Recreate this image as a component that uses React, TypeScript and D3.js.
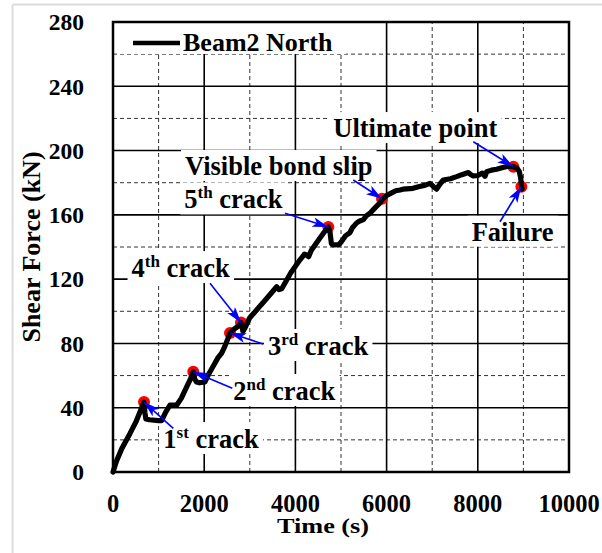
import React, { useEffect, useRef } from "react";
import * as d3 from "d3";

// ---- data ----
const timeS = [0, 80, 200, 373, 500, 600, 680, 700, 720, 800, 1000, 1067, 1150, 1250, 1400, 1500, 1600, 1700, 1760, 1790, 1830, 1900, 2017, 2100, 2200, 2300, 2383, 2450, 2520, 2566, 2620, 2680, 2785, 2807, 2850, 2900, 3000, 3187, 3370, 3589, 3640, 3700, 3800, 3900, 4000, 4101, 4200, 4247, 4290, 4350, 4450, 4550, 4650, 4722, 4760, 4790, 4832, 4950, 5000, 5100, 5197, 5250, 5344, 5400, 5490, 5560, 5636, 5750, 5855, 5900, 6000, 6100, 6200, 6294, 6360, 6579, 6700, 6850, 6952, 7030, 7098, 7180, 7244, 7400, 7536, 7650, 7792, 7850, 7902, 8000, 8100, 8158, 8195, 8300, 8414, 8550, 8670, 8780, 8860, 8910, 8940, 8960, 8970];
const shearKN = [0, 7, 15, 24, 31, 38, 43.5, 37, 33, 32.5, 32, 32, 37, 41.7, 41.7, 46, 52, 58, 62.4, 58, 56, 55.5, 56, 61, 66, 71, 74, 78, 83, 86.5, 88, 89.4, 91.5, 93, 87.5, 90, 96, 102, 108, 115.3, 113.5, 114, 119, 124, 128, 132, 135.5, 135, 134, 138, 142, 146, 150, 152.5, 149, 142, 141.3, 141.5, 143, 147, 149, 152, 155, 156, 157, 159.5, 161, 164.5, 167.5, 169.5, 172, 173.5, 175, 175.5, 176, 176.5, 177.5, 178.5, 179.6, 177.5, 176, 179.5, 181.7, 182.5, 183.8, 185, 186.3, 185, 184.2, 184.5, 186, 184, 186.9, 187.8, 188.4, 189.5, 190.3, 190, 189, 187, 183, 178, 176];

const markerTime = [680, 1760, 2566, 2807, 4722, 5900, 8780, 8955];
const markerShear = [43.5, 62.4, 86.5, 93, 152.5, 170, 190, 177.5];

const labelMain = ["1", "2", "3", "4", "5", "Visible bond slip", "Ultimate point", "Failure"];
const labelSup = ["st", "nd", "rd", "th", "th", "", "", ""];
const labelRest = [" crack", " crack", " crack", " crack", " crack", "", "", ""];
const labelTime = [1103, 2638, 3399, 406, 1564, 1579, 4831, 7866];
const labelShear = [14.9, 44.8, 72.8, 121.3, 164, 184.8, 208.4, 143.9];
const arrowTailTime = [1322, 2616, 3296, 2127, 3772, 5270, 7901, 8487];
const arrowTailShear = [27.2, 52.1, 79.6, 117.4, 161, 181.7, 205.5, 155.7];
const arrowTarget = [0, 1, 2, 3, 4, 5, 6, 7];

const xTicks = [0, 2000, 4000, 6000, 8000, 10000];
const yTicks = [0, 40, 80, 120, 160, 200, 240, 280];
const xMinor = [1000, 3000, 5000, 7000, 9000];
const yMinor = [20, 60, 100, 140, 180, 220, 260];

const seriesName = "Beam2 North";
const xTitle = "Time (s)";
const yTitle = "Shear Force (kN)";

const W = 602;
const H = 553;
const M = { left: 113, top: 22, right: 33, bottom: 81 };
const FONT = "'Liberation Serif', 'Times New Roman', serif";

export default function App() {
  const ref = useRef<SVGSVGElement | null>(null);

  useEffect(() => {
    const svg = d3.select(ref.current);
    svg.selectAll("*").remove();

    const x = d3.scaleLinear().domain([0, 10000]).range([M.left, W - M.right]);
    const y = d3.scaleLinear().domain([0, 280]).range([H - M.bottom, M.top]);
    const x0 = x(0), x1 = x(10000), y0 = y(0), y1 = y(280);

    // outer light frame
    svg.append("line").attr("x1", 12.5).attr("x2", W).attr("y1", 4.5).attr("y2", 4.5).attr("stroke", "#dcdcdc").attr("stroke-width", 2);
    svg.append("line").attr("x1", 12.5).attr("x2", 12.5).attr("y1", 4.5).attr("y2", H).attr("stroke", "#dcdcdc").attr("stroke-width", 2);

    const defs = svg.append("defs");
    defs.append("marker").attr("id", "ah").attr("markerUnits", "userSpaceOnUse")
      .attr("markerWidth", 18).attr("markerHeight", 12).attr("refX", 16).attr("refY", 5)
      .attr("orient", "auto")
      .append("path").attr("d", "M0,0 L16,5 L0,10 L4,5 Z").attr("fill", "#0000ff");

    // grid
    const g = svg.append("g");
    g.selectAll(".xm").data(xMinor).enter().append("line")
      .attr("x1", (d) => x(d)).attr("x2", (d) => x(d)).attr("y1", y0).attr("y2", y1)
      .attr("stroke", "#333").attr("stroke-width", 1).attr("stroke-dasharray", "4,3");
    g.selectAll(".ym").data(yMinor).enter().append("line")
      .attr("y1", (d) => y(d)).attr("y2", (d) => y(d)).attr("x1", x0).attr("x2", x1)
      .attr("stroke", "#333").attr("stroke-width", 1).attr("stroke-dasharray", "4,3");
    g.selectAll(".xM").data(xTicks).enter().append("line")
      .attr("x1", (d) => x(d)).attr("x2", (d) => x(d)).attr("y1", y0).attr("y2", y1)
      .attr("stroke", "#000").attr("stroke-width", 1.6);
    g.selectAll(".yM").data(yTicks).enter().append("line")
      .attr("y1", (d) => y(d)).attr("y2", (d) => y(d)).attr("x1", x0).attr("x2", x1)
      .attr("stroke", "#000").attr("stroke-width", 1.6);

    // legend
    const lg = svg.append("g");
    const lgRect = lg.append("rect").attr("fill", "#fff");
    lg.append("line").attr("x1", x0 + 20).attr("x2", x0 + 67).attr("y1", y1 + 21).attr("y2", y1 + 21)
      .attr("stroke", "#000").attr("stroke-width", 4.5);
    lg.append("text").attr("x", x0 + 70).attr("y", y1 + 29)
      .attr("font-family", FONT).attr("font-weight", "bold").attr("font-size", 26).text(seriesName);
    lgRect.attr("x", x0 + 5).attr("y", y1 + 1).attr("width", 228).attr("height", 31);

    // annotation text boxes
    const ag = svg.append("g");
    const texts: any[] = [];
    labelMain.forEach((m, i) => {
      const grp = ag.append("g");
      const r = grp.append("rect").attr("fill", "#fff");
      const t = grp.append("text").attr("x", x(labelTime[i])).attr("y", y(labelShear[i]))
        .attr("font-family", FONT).attr("font-weight", "bold").attr("font-size", 26.5);
      t.append("tspan").text(m);
      if (labelSup[i]) {
        t.append("tspan").attr("font-size", 17).attr("dy", -10).text(labelSup[i]);
        t.append("tspan").attr("dy", 10).text(labelRest[i]);
      }
      texts.push({ r, t });
    });

    // markers
    svg.append("g").selectAll("circle").data(markerTime).enter().append("circle")
      .attr("cx", (d) => x(d)).attr("cy", (_d, i) => y(markerShear[i])).attr("r", 6).attr("fill", "#ff0000");

    // series line
    const pts: [number, number][] = timeS.map((t, i) => [t, shearKN[i]]);
    const line = d3.line<[number, number]>().x((d) => x(d[0])).y((d) => y(d[1]));
    svg.append("path").attr("d", line(pts) as string).attr("fill", "none").attr("stroke", "#000")
      .attr("stroke-width", 5.2).attr("stroke-linejoin", "round").attr("stroke-linecap", "round");

    // frame
    svg.append("rect").attr("x", x0).attr("y", y1).attr("width", x1 - x0).attr("height", y0 - y1)
      .attr("fill", "none").attr("stroke", "#000").attr("stroke-width", 2.5);

    // arrows
    arrowTarget.forEach((k, i) => {
      svg.append("line").attr("x1", x(arrowTailTime[i])).attr("y1", y(arrowTailShear[i]))
        .attr("x2", x(markerTime[k])).attr("y2", y(markerShear[k]))
        .attr("stroke", "#0000ff").attr("stroke-width", 1.6).attr("marker-end", "url(#ah)");
    });

    // size text boxes
    texts.forEach(({ r, t }) => {
      const b = (t.node() as SVGTextElement).getBBox();
      r.attr("x", b.x - 4).attr("y", b.y - 1).attr("width", b.width + 8).attr("height", b.height + 1);
    });

    // ticks
    svg.append("g").selectAll("text").data(yTicks).enter().append("text")
      .attr("x", x0 - 29).attr("y", (d) => y(d)).attr("dy", "0.35em").attr("text-anchor", "end")
      .attr("font-family", FONT).attr("font-weight", "bold").attr("font-size", 23.5).text((d) => String(d));
    svg.append("g").selectAll("text").data(xTicks).enter().append("text")
      .attr("x", (d) => x(d)).attr("y", y0 + 40).attr("text-anchor", "middle")
      .attr("font-family", FONT).attr("font-weight", "bold").attr("font-size", 24.5).text((d) => String(d));

    // axis titles
    svg.append("text").attr("x", 277).attr("y", y0 + 61)
      .attr("textLength", 92).attr("lengthAdjust", "spacingAndGlyphs")
      .attr("font-family", FONT).attr("font-weight", "bold").attr("font-size", 21.5).text(xTitle);
    svg.append("text").attr("transform", `translate(40,${(y0 + y1) / 2}) rotate(-90)`).attr("text-anchor", "middle")
      .attr("font-family", FONT).attr("font-weight", "bold").attr("font-size", 26).text(yTitle);
  }, []);

  return (
    <svg ref={ref} width={W} height={H} style={{ position: "absolute", left: 0, top: 0, background: "#fff" }} />
  );
}
